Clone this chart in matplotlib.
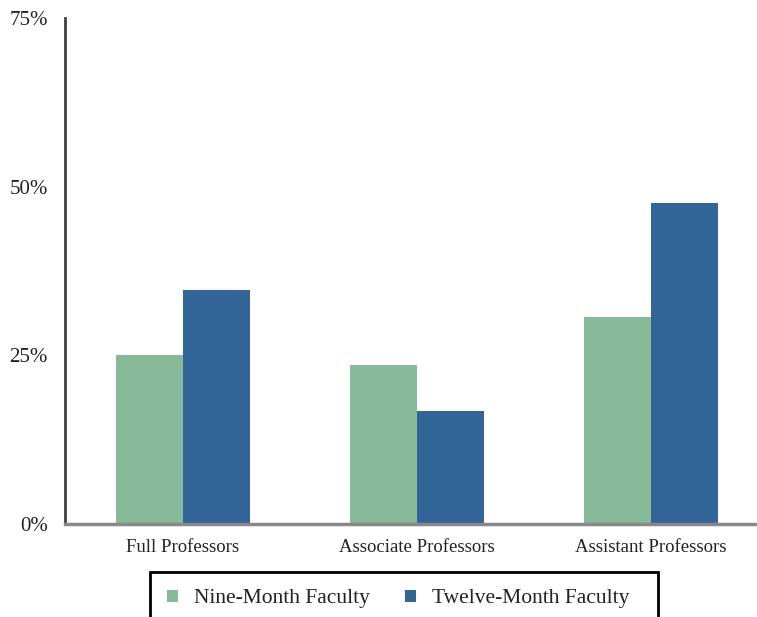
import matplotlib
matplotlib.use("Agg")
import matplotlib.pyplot as plt
from matplotlib.patches import Rectangle
import numpy as np

categories = ["Full Professors", "Associate Professors", "Assistant Professors"]
nine_month = [25.0, 23.6, 30.7]
twelve_month = [34.7, 16.8, 47.6]
series_names = ["Nine-Month Faculty", "Twelve-Month Faculty"]
yticks = [0, 25, 50, 75]
ytick_labels = ["0%", "25%", "50%", "75%"]

plt.rcParams['font.family'] = ['Liberation Serif', 'DejaVu Serif']

fig = plt.figure(figsize=(7.57, 6.17), dpi=100)
ax = fig.add_axes([65/757, 1-524/617, 1-65/757, (524-18)/617])

x = np.arange(len(categories))
w = 0.286
green = "#86BA98"
blue = "#326699"
ax.bar(x - w/2, nine_month, w, color=green, label=series_names[0])
ax.bar(x + w/2, twelve_month, w, color=blue, label=series_names[1])

ax.set_xlim(-0.504, 2.453)
ax.set_ylim(0, 75)
ax.set_yticks(yticks)
ax.set_yticklabels(ytick_labels, fontsize=15, color="#222222")
ax.set_xticks(x)
ax.set_xticklabels(categories, fontsize=13.5, color="#222222")
ax.tick_params(axis='both', length=0)
ax.tick_params(axis='y', pad=12.5)
ax.tick_params(axis='x', pad=11)

for s in ["top", "right"]:
    ax.spines[s].set_visible(False)
ax.spines["left"].set_color("#404040")
ax.spines["left"].set_linewidth(2)
ax.spines["bottom"].set_color("#888888")
ax.spines["bottom"].set_linewidth(2.5)

leg = fig.legend(loc="center left", bbox_to_anchor=(167/757, 1-599/617),
                 ncol=2, fontsize=15.5, frameon=False,
                 handlelength=0.5, handleheight=0.5, handletextpad=0.75, borderpad=0,
                 borderaxespad=0, columnspacing=1.65)
for t in leg.get_texts():
    t.set_color("#222222")

frame = Rectangle((150/757, -0.05), (658-150)/757, 0.05 + 1-572/617,
                  transform=fig.transFigure, fill=False, edgecolor="black",
                  linewidth=2, clip_on=False)
fig.patches.append(frame)

fig.savefig("out.png", dpi=100)
